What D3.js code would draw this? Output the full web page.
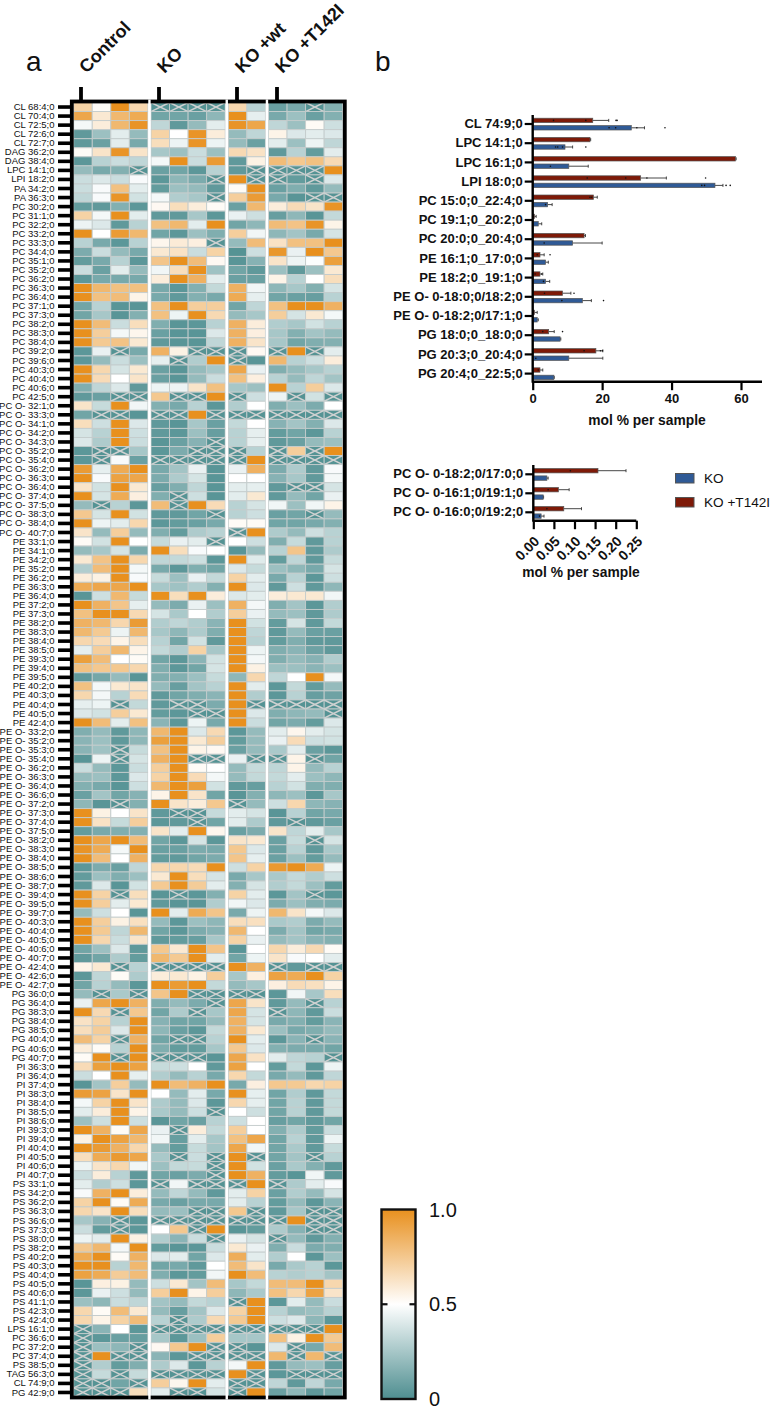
<!doctype html>
<html lang="en">
<head>
<meta charset="UTF-8">
<title>Lipid heatmap</title>
<script src="https://cdnjs.cloudflare.com/ajax/libs/d3/7.8.5/d3.min.js"></script>
<style>
    html, body { margin: 0; padding: 0; background: #fff; }
    svg { display: block; }
    text { font-family: "Liberation Sans", Arial, sans-serif; fill: #111; }
</style>
</head>
<body>
<svg id="chart" width="771" height="1407"></svg>
<script>
    var x = null; // crossed out cell, no value

    var groupNames = ['Control', 'KO', 'KO +wt', 'KO +T142I'];
    var groupSizes = [4, 4, 2, 4];

    var rowLabels = [
        'CL 68:4;0','CL 70:4;0','CL 72:5;0','CL 72:6;0','CL 72:7;0','DAG 36:2;0','DAG 38:4;0','LPC 14:1;0','LPI 18:2;0','PA 34:2;0','PA 36:3;0',
        'PC 30:2;0','PC 31:1;0','PC 32:2;0','PC 33:2;0','PC 33:3;0','PC 34:4;0','PC 35:1;0','PC 35:2;0','PC 36:2;0','PC 36:3;0','PC 36:4;0','PC 37:1;0','PC 37:3;0','PC 38:2;0','PC 38:3;0','PC 38:4;0','PC 39:2;0','PC 39:6;0','PC 40:3;0','PC 40:4;0','PC 40:6;0','PC 42:5;0',
        'PC O- 32:1;0','PC O- 33:3;0','PC O- 34:1;0','PC O- 34:2;0','PC O- 34:3;0','PC O- 35:2;0','PC O- 35:4;0','PC O- 36:2;0','PC O- 36:3;0','PC O- 36:4;0','PC O- 37:4;0','PC O- 37:5;0','PC O- 38:3;0','PC O- 38:4;0','PC O- 40:7;0',
        'PE 33:1;0','PE 34:1;0','PE 34:2;0','PE 35:2;0','PE 36:2;0','PE 36:3;0','PE 36:4;0','PE 37:2;0','PE 37:3;0','PE 38:2;0','PE 38:3;0','PE 38:4;0','PE 38:5;0','PE 39:3;0','PE 39:4;0','PE 39:5;0','PE 40:2;0','PE 40:3;0','PE 40:4;0','PE 40:5;0','PE 42:4;0',
        'PE O- 33:2;0','PE O- 35:2;0','PE O- 35:3;0','PE O- 35:4;0','PE O- 36:2;0','PE O- 36:3;0','PE O- 36:4;0','PE O- 36:6;0','PE O- 37:2;0','PE O- 37:3;0','PE O- 37:4;0','PE O- 37:5;0','PE O- 38:2;0','PE O- 38:3;0','PE O- 38:4;0','PE O- 38:5;0','PE O- 38:6;0','PE O- 38:7;0','PE O- 39:4;0','PE O- 39:5;0','PE O- 39:7;0','PE O- 40:3;0','PE O- 40:4;0','PE O- 40:5;0','PE O- 40:6;0','PE O- 40:7;0','PE O- 42:4;0','PE O- 42:6;0','PE O- 42:7;0',
        'PG 36:0;0','PG 36:4;0','PG 38:3;0','PG 38:4;0','PG 38:5;0','PG 40:4;0','PG 40:6;0','PG 40:7;0',
        'PI 36:3;0','PI 36:4;0','PI 37:4;0','PI 38:3;0','PI 38:4;0','PI 38:5;0','PI 38:6;0','PI 39:3;0','PI 39:4;0','PI 40:4;0','PI 40:5;0','PI 40:6;0','PI 40:7;0',
        'PS 33:1;0','PS 34:2;0','PS 36:2;0','PS 36:3;0','PS 36:6;0','PS 37:3;0','PS 38:0;0','PS 38:2;0','PS 40:2;0','PS 40:3;0','PS 40:4;0','PS 40:5;0','PS 40:6;0','PS 41:1;0','PS 42:3;0','PS 42:4;0',
        'LPS 16:1;0','PC 36:6;0','PC 37:2;0','PC 37:4;0','PS 38:5;0','TAG 56:3;0','CL 74:9;0','PG 42:9;0'
    ];

    var heatValues = [
        [.7,.52,1,.68, x,x,x,x, .68,.3, .08,.12,x,.15],
        [.9,.6,.82,.88, .1,.1,.08,.18, 1,.43, .12,.22,.08,.15],
        [.47,.58,.82,.98, .32,.05,.2,.42, .98,.9, .32,.22,.52,.36],
        [.05,.22,.42,.2, .7,.5,.98,.58, .2,.32, .55,.4,.42,.4],
        [.05,.08,.42,.12, .65,.45,.98,.45, .2,.08, .42,.22,.45,.32],
        [.52,.62,.98,.62, .25,.22,.35,.22, .67,.63, .05,.3,.06,.42],
        [.04,.3,.35,.32, .47,1,.35,.95, .05,.56, .8,.75,.78,.67],
        [.2,.12,.15,x, .08,.1,.04,.3, .05,x, x,x,x,1],
        [.35,.4,.35,.48, .04,.18,.13,x, 1,x, x,.06,x,.4],
        [.35,.48,.78,.42, .06,.22,.2,.05, .52,1, .08,.14,.05,.2],
        [.32,.48,.98,.37, .47,.28,.25,x, .72,.95, .12,.03,x,x],
        [.06,.05,.15,.04, .53,.65,.58,.52, .08,.82, .58,.66,.62,.98],
        [.7,.47,1,.42, .05,.05,.25,.04, .44,.36, .07,.18,.03,.33],
        [.45,.4,.05,.3, .78,.82,.42,1, .1,.18, .8,.77,.98,.55],
        [1,.5,.95,.82, .1,.04,.22,.14, .72,.46, .18,.24,.12,.38],
        [.3,.12,.04,.3, .54,.59,.57,x, .2,.8, .63,.78,.78,1],
        [.13,.35,.2,.12, .6,.63,.35,.7, .02,.36, .97,.44,1,.75],
        [.06,.12,.3,.04, .76,1,.8,.53, .03,.16, .62,.45,.49,.93],
        [.35,.08,.42,.2, .46,.65,1,.23, .1,.05, .22,.05,.22,.6],
        [.04,.12,.12,.12, .58,1,.85,.42, .08,.08, .55,.3,.5,.65],
        [1,.82,.78,.78, .12,.04,.15,.33, .85,.46, .18,.25,.15,.38],
        [1,.78,.8,.55, .12,.05,.15,.12, .88,.43, .1,.08,.07,.3],
        [.1,.3,.03,.03, .78,1,.72,.72, .1,.32, .78,1,1,.85],
        [.1,.25,.03,.15, .78,.45,1,.67, .2,.25, .72,.38,.6,.47],
        [1,.8,.35,.65, .14,.03,.04,.3, .85,.58, .28,.25,.37,.3],
        [1,.72,.47,.54, .08,.03,.03,.4, .85,.57, .25,.15,.24,.2],
        [1,.74,.77,.6, .05,.03,.03,.32, .85,.62, .25,.1,.14,.15],
        [.04,.44,x,.12, .85,.56,x,x, x,.53, x,1,x,.42],
        [.04,.2,.35,.22, .43,x,.28,1, x,.03, .82,.3,.36,.58],
        [1,.68,.38,.6, .08,.03,.2,.25, .9,.44, .14,.2,.25,.3],
        [1,.66,.5,.62, .08,.03,.2,.35, .78,.57, .3,.2,.32,.24],
        [.14,.32,.4,.05, .45,.45,.62,.78, .25,.22, 1,.3,.72,.4],
        [.05,.08,x,x, .75,x,x,1, x,.36, .45,x,.37,x],
        [.62,.34,1,.46, .15,.12,.3,.04, .28,.5, .14,.22,.13,.5],
        [.1,x,x,.03, x,x,1,x, x,x, x,x,x,x],
        [.65,.36,1,.4, .05,.03,.25,.08, .33,.5, .16,.24,.15,.4],
        [.38,.3,1,.36, .05,.04,.22,.07, .3,.43, .06,.1,.04,.3],
        [.4,.27,1,.35, .03,.08,.16,x, .3,.43, .05,.08,.2,.22],
        [.04,x,x,.25, .04,.13,x,x, x,.3, x,.72,x,1],
        [.04,x,.48,.08, x,x,x,x, x,1, x,x,x,x],
        [.95,.43,.88,1, .12,.24,.44,.03, .44,.85, .13,.27,.05,.48],
        [1,.48,.92,.9, .13,.27,.38,.03, .5,.5, .16,.25,.05,.47],
        [.62,.37,1,.6, .07,.14,.32,.03, .42,.43, .05,x,x,.38],
        [1,.38,.88,.57, .14,x,.36,.03, .42,.6, .05,.2,.1,.44],
        [.2,x,.3,.04, .8,x,1,.66, .3,.38, .46,.22,.46,.55],
        [.75,.38,1,.37, .05,.05,.1,x, .3,.36, .08,.1,x,.2],
        [1,.45,.42,.68, .04,.06,.08,.12, .52,.52, .1,.1,.12,.15],
        [.62,.2,.72,.2, .14,.06,.27,.3, x,1, .27,.2,.36,.3],
        [.52,.37,1,.5, .34,.44,.42,x, .5,.36, .14,.34,.05,.3],
        [.2,.25,.38,.13, 1,.65,.48,.5, .03,.2, .3,.76,.05,.27],
        [.6,.77,1,.68, .32,.33,.36,.04, 1,.41, .06,.32,.05,.34],
        [.28,.8,1,.47, .12,.04,.14,.1, .4,.34, .22,.18,.12,.38],
        [.58,.56,1,.48, .34,.22,.44,.33, .7,.42, .12,.3,.04,.36],
        [.88,.9,.9,1, .25,.23,.28,.15, 1,.4, .05,.36,.05,.18],
        [.03,.36,.82,.34, 1,.65,1,.58, .4,.42, .58,.6,.6,.46],
        [1,.85,.76,.43, .2,.13,.44,.22, .85,.47, .14,.24,.04,.28],
        [.78,1,1,.67, .38,.26,.5,.28, .72,.44, .2,.22,.05,.27],
        [.85,.82,.68,.95, .28,.32,.28,.17, 1,.37, .06,.38,.05,.33],
        [.82,.74,.45,.82, .25,.18,.27,.14, 1,.32, .05,.2,.08,.08],
        [.68,.66,.55,.65, .3,.1,.37,.05, 1,.3, .06,.14,.05,.05],
        [.43,.72,.82,.55, .33,.28,.7,.25, 1,.45, .14,.17,.09,.05],
        [.93,.8,.5,.52, .1,.04,.17,.37, 1,.47, .14,.2,.16,.28],
        [.78,.75,.75,.68, .14,.04,.1,.38, 1,.56, .22,.22,.17,.22],
        [.05,.11,.2,.03, .14,.15,.22,.34, .18,.68, .32,.5,1,.47],
        [.78,.47,.6,.62, .2,.07,.24,.3, 1,.42, .04,.33,.06,.2],
        [.68,.47,.3,.66, .05,.1,.14,.17, 1,.28, .04,.3,.07,.09],
        [.43,.45,x,.33, .05,x,x,.13, 1,x, x,x,x,x],
        [.4,.37,.72,.6, .06,.04,x,x, 1,.4, .14,.18,.2,x],
        [1,.8,.42,.78, .17,.04,.45,.12, 1,.35, .1,.13,.06,.4],
        [.14,.2,.05,.18, .82,1,.4,.67, .04,.2, .42,.54,.42,.38],
        [.17,.22,.05,.18, .93,1,.6,.72, .06,.2, .44,.66,.36,.37],
        [.17,.23,x,.34, .78,1,.55,.53, .08,.2, .26,.42,.08,.04],
        [.03,.45,x,.38, .85,1,x,x, .44,x, x,.55,x,.1],
        [.35,.2,.04,.35, .72,1,.52,.5, .2,.34, .32,.55,.2,.3],
        [.2,.22,.04,.4, .7,1,.66,.47, .2,.33, .33,.42,.22,.18],
        [.15,.12,.03,.36, .82,1,.93,.37, .05,.07, .3,.37,.14,.14],
        [.08,.24,.1,.16, .55,1,.62,.1, .03,.15, .18,.22,.04,.25],
        [.18,.03,x,.15, 1,.62,.58,.75, x,.2, .36,.68,.18,.16],
        [1,.56,.5,.62, .05,x,x,.34, .42,.38, .03,.3,.1,.12],
        [1,.63,.34,.72, .04,.05,x,.1, .42,.27, .05,x,.05,.08],
        [.06,.12,.14,.15, .62,.42,1,.54, .08,.13, .62,.32,.42,.25],
        [1,.9,1,.8, .1,.04,.38,.04, .62,.6, .08,.34,x,.38],
        [.98,.88,.47,1, .08,.08,.13,.12, .75,.4, .08,.3,.05,.26],
        [1,.8,.5,.85, .06,.05,.1,.13, .76,.43, .08,.22,.06,.2],
        [.04,.13,.08,.32, .68,.68,.66,1, .36,.7, .96,1,.88,.45],
        [.06,.22,.14,.22, .6,1,.65,.38, .12,.25, .26,.33,.28,.36],
        [.05,.4,.03,.37, .74,1,.73,.42, .15,.38, .28,.33,.22,.06],
        [1,.7,x,.65, .03,x,.04,.15, .7,.42, .04,.24,x,.04],
        [1,.72,.42,.6, .05,.03,.03,.28, .46,.4, .13,.22,.14,.13],
        [.2,.36,.5,.03, 1,.42,.88,.76, .12,.45, .82,.62,.47,.4],
        [1,.72,.56,.64, .2,.04,.22,.18, .65,.64, .26,.28,.13,.2],
        [1,.74,.32,.82, .1,.04,.13,.16, .82,.5, .13,.24,.1,.12],
        [1,.68,.35,.62, .05,.06,.07,.25, .7,.44, .2,.24,.17,.15],
        [.1,.22,.4,.05, .75,.6,1,.76, .03,.5, .68,.58,.67,.52],
        [.05,.1,.27,.06, .82,.74,1,.42, .1,.45, .62,.48,.5,.42],
        [.55,.6,x,.3, x,x,x,x, 1,.85, x,.05,x,x],
        [.04,.32,.52,.27, .58,.6,.56,.72, .25,.57, .92,.88,1,.7],
        [.1,.3,.2,.04, 1,.95,1,.33, .2,.25, .57,.66,.64,.55],
        [.2,x,.26,x, .76,1,x,x, x,x, .04,.46,.25,.65],
        [.44,.9,1,.85, .14,.2,.13,x, .9,.62, .05,.2,x,.3],
        [1,.67,x,.75, .1,.27,x,.25, .9,.38, x,.18,.05,.35],
        [.63,.7,.3,1, .16,.1,.1,.2, .85,.38, .12,.15,.06,.17],
        [.65,.73,.4,1, .18,.08,.04,.33, .85,.6, .22,.12,.14,.2],
        [.8,.7,x,.85, .1,x,x,.3, 1,.42, .04,.17,x,.17],
        [.58,.52,.3,1, .14,.06,.06,.25, .75,.4, .15,.13,.12,.1],
        [.52,1,x,1, x,x,x,.03, .9,.63, .42,.32,.3,x],
        [.66,.93,1,.92, .34,.36,.5,.05, .92,.5, .06,.33,.04,.45],
        [.35,.5,1,.43, .28,.2,.3,.12, .68,.33, .12,.2,.05,.32],
        [.03,.24,.72,.2, 1,.8,.85,1, .12,.57, .75,.74,.68,.7],
        [.95,.92,.62,1, .5,.2,.42,.12, 1,.43, .1,.28,.05,.33],
        [.47,.7,1,.62, .27,.2,.4,.04, .68,.43, .1,.3,.05,.33],
        [.42,.58,1,.55, .26,.2,.36,x, .5,.36, .1,.3,.05,.33],
        [.22,.36,1,.36, .03,.1,.08,.3, .36,.5, .07,.1,.05,.1],
        [1,.85,.52,.9, .44,x,.58,.33, .72,.5, .15,.27,.06,.35],
        [.56,1,.92,.82, .46,.07,.42,.25, .78,.9, .1,.3,.05,.45],
        [1,.95,.85,.68, .2,.06,.34,.24, .9,.46, .1,.26,.05,.34],
        [.65,.88,.96,.9, .26,x,.35,x, 1,x, .1,.24,x,.3],
        [.45,.62,.68,.46, .22,.33,.34,x, 1,.37, .08,.26,.15,.05],
        [.35,.58,.3,.05, .1,.08,.13,x, 1,.85, .06,.03,.46,.05],
        [.42,.28,.36,.04, x,.46,x,x, x,1, x,.27,.42,.48],
        [.48,.85,1,.58, .2,.32,.2,.05, .42,.7, .08,.28,.2,.38],
        [.7,1,.52,.88, .12,.08,.12,.12, .42,.3, .06,.2,.04,.17],
        [.68,.62,1,.65, .2,.22,x,x, .75,x, .05,.25,x,x],
        [.25,.16,x,.04, x,x,x,x, x,x, x,1,x,x],
        [.35,.06,x,.04, .5,.75,x,1, .03,.06, .27,.16,x,x],
        [.45,.42,1,.56, .28,.17,.35,x, .44,.38, x,.2,.05,.15],
        [.75,.82,.47,1, .06,.03,.04,.35, .6,.44, .14,.35,.13,.14],
        [.88,1,.52,.85, .4,.42,.1,.4, .87,.42, .28,.5,.04,.22],
        [1,1,.3,.82, .1,.12,.05,.5, .8,.62, .12,.26,.3,.04],
        [.92,.88,.73,.8, .14,.04,.06,.46, 1,.8, .3,.28,.3,.24],
        [.03,.57,.56,.2, .36,.6,.24,.8, .25,.33, .8,.8,1,.68],
        [.04,.44,.36,.2, .72,1,.55,.72, .18,.26, .78,.68,.92,.62],
        [.22,.18,.35,.32, .24,.2,.33,.3, x,1, .04,.42,.2,.35],
        [.68,.52,.8,.6, .2,.07,.24,.4, .7,1, .3,.2,.22,.3],
        [.68,.55,.7,.8, .3,x,.27,.67, .74,1, .36,.4,.18,.04],
        [x,.17,.5,.04, x,x,x,x, x,x, x,x,x,1],
        [x,.04,.08,.07, .25,.04,.22,.72, .25,.25, .78,.56,1,.74],
        [x,.22,.18,x, .53,.75,1,x, x,.03, .4,x,.12,.8],
        [x,1,x,x, .17,.04,x,x, x,x, .82,x,.82,x],
        [x,.28,.06,.14, .27,.4,.04,.3, .47,1, .05,.2,.22,.07],
        [x,.34,x,.34, x,x,x,x, 1,x, .04,x,x,x],
        [x,x,.1,x, .72,.54,1,.42, x,x, .32,.05,.32,.12],
        [x,x,x,.65, .42,x,x,.38, x,1, .08,.18,.05,.1]
    ];

    // panel b, upper chart
    var barLabels = ['CL 74:9;0','LPC 14:1;0','LPC 16:1;0','LPI 18:0;0','PC 15:0;0_22:4;0','PC 19:1;0_20:2;0','PC 20:0;0_20:4;0','PE 16:1;0_17:0;0','PE 18:2;0_19:1;0','PE O- 0-18:0;0/18:2;0','PE O- 0-18:2;0/17:1;0','PG 18:0;0_18:0;0','PG 20:3;0_20:4;0','PG 20:4;0_22:5;0'];
    var t142Means = [17.3,16.5,58.4,31.1,17.5,.5,14.8,2.1,2.1,8.6,.5,4.6,18.2,2.1];
    var t142Tips = [21.9,16.7,58.6,38.5,18.6,1,15.2,3.3,2.9,11,1.3,6.2,20.2,2.9];
    var t142Points = [[6,15.3,24,24.3],[],[],[15.7,26.8,32.9,49.8],[16.5,17],[],[],[1.3,5],[.7,2.6],[3.4,11.9],[],[2.9,8.6],[14.8,19.5,20.1],[1.6]];
    var koMeans = [28.4,9.3,10.4,52.5,4.3,1.6,11.5,3.7,3.7,14.3,1.3,7.9,10.4,6.1];
    var koTips = [32.2,11.5,16,54.8,5.6,2.6,20,4.5,4.9,16.9,1.6,8.1,20.2,6.2];
    var koPoints = [[22,23.9,30,38.1],[6.6,7.2,8.6,15.3],[5.1],[48.7,49.5,55.7,56.9],[3.7],[],[3.3],[],[3.1],[8.4,20.4],[],[],[.9],[]];
    var barTicks = [0,20,40,60];

    // panel b, lower chart
    var smallLabels = ['PC O- 0-18:2;0/17:0;0','PC O- 0-16:1;0/19:1;0','PC O- 0-16:0;0/19:2;0'];
    var smallT142Means = [.157,.061,.074];
    var smallT142Tips = [.225,.087,.117];
    var smallT142Points = [[.09],[.036],[.033]];
    var smallKoMeans = [.033,.024,.019];
    var smallKoTips = [.036,.025,.026];
    var smallKoPoints = [[],[],[.015]];
    var smallTicks = [0,.05,.1,.15,.2,.25];

    var colorStops = [0, .5, 1];
    var legendLabels = ['KO', 'KO +T142I'];

    var svg = d3.select('#chart');

    var teal = '#4e8e90', orange = '#e8901e', blue = '#2f5a96', red = '#7e1a08';

    var color = d3.scaleLinear().domain(colorStops).range([teal, '#ffffff', orange]);

    // letters
    svg.append('text').attr('x', 26).attr('y', 71).attr('font-size', 28).text('a');
    svg.append('text').attr('x', 375).attr('y', 71).attr('font-size', 28).text('b');

    //================ heatmap ================

    var colGroup = [];
    groupSizes.forEach(function (n, g) {
        d3.range(n).forEach(function () { colGroup.push(g); });
    });

    var cellW = 18.55, groupGap = 3.1;
    var xScale = d3.scaleLinear().domain([0, 14]).range([73.7, 73.7 + 14 * cellW]);
    function cellX(i) { return xScale(i) + colGroup[i] * groupGap; }

    var yScale = d3.scaleBand().domain(rowLabels).range([102.5, 1397]);

    var heat = svg.append('g');

    heatValues.forEach(function (row, r) {
        var y = yScale(rowLabels[r]);
        var h = yScale.bandwidth();

        var cells = heat.append('g').selectAll('g').data(row).enter().append('g')
            .attr('transform', function (d, i) { return 'translate(' + cellX(i) + ',' + y + ')'; });

        cells.append('rect')
            .attr('width', cellW)
            .attr('height', h)
            .attr('fill', function (d) { return d === null ? color(.02) : color(d); })
            .attr('stroke', '#c4cccc')
            .attr('stroke-width', .9);

        var crossed = cells.filter(function (d) { return d === null; });
        [[0, 0, cellW, h], [0, h, cellW, 0]].forEach(function (l) {
            crossed.append('line')
                .attr('x1', l[0]).attr('y1', l[1])
                .attr('x2', l[2]).attr('y2', l[3])
                .attr('stroke', '#cfd1d1')
                .attr('stroke-width', 1.5);
        });
    });

    // frame, with the white group gaps cut through it
    svg.append('rect')
        .attr('x', 71.8).attr('y', 101.5)
        .attr('width', 273).attr('height', 1296)
        .attr('fill', 'none').attr('stroke', '#000').attr('stroke-width', 3.8);

    var gapStarts = [4, 8, 10];
    gapStarts.forEach(function (i) {
        svg.append('line')
            .attr('x1', cellX(i) - groupGap / 2).attr('x2', cellX(i) - groupGap / 2)
            .attr('y1', 99.5).attr('y2', 1399.5)
            .attr('stroke', '#fff').attr('stroke-width', 2.4);
    });

    var yAxis = d3.axisLeft(yScale).tickSize(12).tickPadding(3.5);
    var yG = svg.append('g').attr('transform', 'translate(70,0)').call(yAxis);
    yG.select('.domain').remove();
    yG.selectAll('line').attr('stroke', '#000').attr('stroke-width', 3.6);
    yG.selectAll('text').attr('font-size', 9.5).attr('font-family', '"Liberation Sans", Arial, sans-serif').attr('fill', '#222');

    // group ticks and rotated names
    var groupTickX = [81, 159, 237, 277];
    groupNames.forEach(function (name, g) {
        svg.append('line')
            .attr('x1', groupTickX[g]).attr('x2', groupTickX[g])
            .attr('y1', 87).attr('y2', 100)
            .attr('stroke', '#000').attr('stroke-width', 3.8);
        svg.append('text')
            .attr('transform', 'translate(' + (groupTickX[g] + 5.5) + ',74) rotate(-45)')
            .attr('font-size', 18)
            .attr('font-weight', 'bold')
            .text(name);
    });

    //================ bar charts ================

    function drawBars(o) {
        var y = d3.scaleBand().domain(o.labels).range(o.yRange);
        var xs = d3.scaleLinear().domain(o.domain).range(o.xRange);
        var g = svg.append('g');

        var series = [
            { means: o.t142Means, tips: o.t142Tips, points: o.t142Points, fill: red, dy: -3.6 },
            { means: o.koMeans, tips: o.koTips, points: o.koPoints, fill: blue, dy: 3.8 }
        ];

        series.forEach(function (s) {
            o.labels.forEach(function (label, i) {
                var cy = y(label) + y.bandwidth() / 2 + s.dy;
                g.append('line')
                    .attr('x1', xs(s.means[i])).attr('x2', xs(s.tips[i]))
                    .attr('y1', cy).attr('y2', cy)
                    .attr('stroke', '#333').attr('stroke-width', .9);
                g.append('line')
                    .attr('x1', xs(s.tips[i])).attr('x2', xs(s.tips[i]))
                    .attr('y1', cy - 1.5).attr('y2', cy + 1.5)
                    .attr('stroke', '#333').attr('stroke-width', .9);
                g.append('rect')
                    .attr('x', xs(0)).attr('y', cy - 2.2)
                    .attr('width', xs(s.means[i]) - xs(0)).attr('height', 4.4)
                    .attr('fill', s.fill)
                    .attr('stroke', '#555').attr('stroke-width', .7);
                g.selectAll(null).data(s.points[i]).enter().append('circle')
                    .attr('cx', function (d) { return xs(d); })
                    .attr('cy', cy)
                    .attr('r', .8)
                    .attr('fill', '#111');
            });
        });

        var yA = d3.axisLeft(y).tickSize(8).tickPadding(2);
        var yAxisG = svg.append('g').attr('transform', 'translate(' + o.xRange[0] + ',0)').call(yA);
        yAxisG.select('.domain').remove();
        yAxisG.selectAll('line').attr('stroke', '#000').attr('stroke-width', 2.2);
        yAxisG.selectAll('text')
            .attr('font-size', 13).attr('font-weight', 'bold')
            .attr('font-family', '"Liberation Sans", Arial, sans-serif').attr('fill', '#111');

        svg.append('line')
            .attr('x1', o.xRange[0]).attr('x2', o.xRange[0])
            .attr('y1', o.axisTop).attr('y2', o.axisY + 1)
            .attr('stroke', '#000').attr('stroke-width', 2.4);

        var xA = d3.axisBottom(xs).tickValues(o.ticks).tickSize(8.5).tickPadding(4).tickFormat(o.format);
        var xG = svg.append('g').attr('transform', 'translate(0,' + o.axisY + ')').call(xA);
        xG.select('.domain').remove();
        xG.selectAll('line').attr('stroke', '#000').attr('stroke-width', 2.2);
        xG.selectAll('text')
            .attr('font-size', 13).attr('font-weight', 'bold')
            .attr('font-family', '"Liberation Sans", Arial, sans-serif').attr('fill', '#111');
        if (o.rotate) {
            xG.selectAll('text')
                .attr('font-size', 14)
                .attr('text-anchor', 'end')
                .attr('x', 0).attr('y', 0).attr('dy', '.35em')
                .attr('transform', 'translate(3,18) rotate(-45)');
        }

        svg.append('line')
            .attr('x1', o.xRange[0]).attr('x2', o.axisEnd)
            .attr('y1', o.axisY).attr('y2', o.axisY)
            .attr('stroke', '#000').attr('stroke-width', 2.4);

        svg.append('text')
            .attr('x', o.titleX).attr('y', o.titleY)
            .attr('text-anchor', 'middle')
            .attr('font-size', 13.8).attr('font-weight', 'bold')
            .text('mol % per sample');
    }

    drawBars({
        labels: barLabels,
        t142Means: t142Means, t142Tips: t142Tips, t142Points: t142Points,
        koMeans: koMeans, koTips: koTips, koPoints: koPoints,
        ticks: barTicks, format: d3.format('d'),
        domain: [0, 60], xRange: [532.7, 741], yRange: [114.4, 383.2],
        axisTop: 115, axisY: 381.7, axisEnd: 762, titleX: 647, titleY: 425
    });

    drawBars({
        labels: smallLabels,
        t142Means: smallT142Means, t142Tips: smallT142Tips, t142Points: smallT142Points,
        koMeans: smallKoMeans, koTips: smallKoTips, koPoints: smallKoPoints,
        ticks: smallTicks, format: d3.format('.2f'), rotate: true,
        domain: [0, .25], xRange: [533.3, 636.3], yRange: [464.8, 521.8],
        axisTop: 465, axisY: 520.7, axisEnd: 636.3, titleX: 581, titleY: 577
    });

    //================ legend ================

    [blue, red].forEach(function (c, i) {
        svg.append('rect')
            .attr('x', 675.5).attr('y', 473.5 + i * 24)
            .attr('width', 18.5).attr('height', 9.5)
            .attr('fill', c).attr('stroke', '#555').attr('stroke-width', 1);
        svg.append('text')
            .attr('x', 704).attr('y', 483 + i * 24)
            .attr('font-size', 13.6)
            .text(legendLabels[i]);
    });

    //================ colour bar ================

    var defs = svg.append('defs');
    var grad = defs.append('linearGradient')
        .attr('id', 'cbar').attr('x1', 0).attr('y1', 1).attr('x2', 0).attr('y2', 0);
    grad.selectAll('stop').data(colorStops).enter().append('stop')
        .attr('offset', function (d) { return d; })
        .attr('stop-color', function (d) { return color(d); });

    var cbScale = d3.scaleLinear().domain([0, 1]).range([1399, 1209.5]);

    svg.append('rect')
        .attr('x', 381.5).attr('y', cbScale(1))
        .attr('width', 34).attr('height', cbScale(0) - cbScale(1))
        .attr('fill', 'url(#cbar)').attr('stroke', '#111').attr('stroke-width', 2.4);

    [[381.5, 387.5], [409.5, 415.5]].forEach(function (t) {
        svg.append('line')
            .attr('x1', t[0]).attr('x2', t[1])
            .attr('y1', cbScale(.5)).attr('y2', cbScale(.5))
            .attr('stroke', '#111').attr('stroke-width', 2.2);
    });

    [[1, '1.0'], [.5, '0.5'], [0, '0']].forEach(function (t) {
        svg.append('text')
            .attr('x', 429).attr('y', cbScale(t[0]) + 7)
            .attr('font-size', 20)
            .text(t[1]);
    });
</script>
</body>
</html>
